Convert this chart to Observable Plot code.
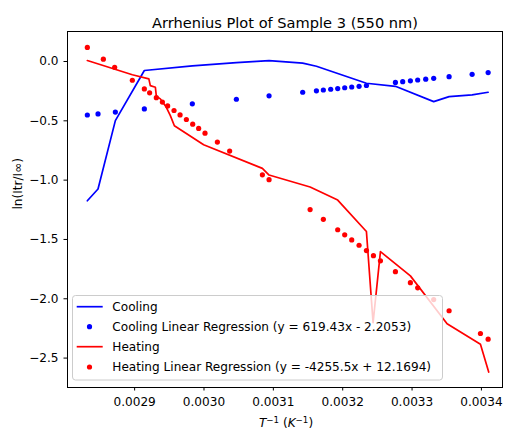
<!DOCTYPE html>
<html>
<head>
<meta charset="utf-8">
<script src="https://cdn.jsdelivr.net/npm/d3@7"></script>
<script src="https://cdn.jsdelivr.net/npm/@observablehq/plot@0.6"></script>
<style>
  body { margin: 0; background: #fff; }
  #chart { position: relative; width: 505px; height: 434px; }
  svg { font-family: "DejaVu Sans", sans-serif; }
</style>
</head>
<body>
<div id="chart"></div>
<script>
// ---- Data ----
const title = "Arrhenius Plot of Sample 3 (550 nm)";
const yLabel = "ln(Itr/I∞)";
const legendLabels = [
  "Cooling",
  "Cooling Linear Regression (y = 619.43x - 2.2053)",
  "Heating",
  "Heating Linear Regression (y = -4255.5x + 12.1694)"
];
const xTicks = [0.0029, 0.0030, 0.0031, 0.0032, 0.0033, 0.0034];
const yTicks = [0.0, -0.5, -1.0, -1.5, -2.0, -2.5];

// Cooling (measured line)
const coolLineX = [0.0028318, 0.0028472, 0.0028722, 0.0029140, 0.0029832, 0.0030467, 0.0030938, 0.0031423, 0.0031621, 0.0032342, 0.0032760, 0.0033312, 0.0033534, 0.0033866, 0.0034097];
const coolLineY = [-1.174, -1.075, -0.498, -0.076, -0.036, -0.010, 0.008, -0.014, -0.040, -0.183, -0.209, -0.338, -0.296, -0.281, -0.259];

// Cooling regression points
const coolPtsX = [0.0028318, 0.0028472, 0.0028722, 0.0029140, 0.0029832, 0.0030467, 0.0030938, 0.0031423, 0.0031621, 0.0031721, 0.0031827, 0.0031928, 0.0032029, 0.0032130, 0.0032236, 0.0032342, 0.0032760, 0.0032865, 0.0032976, 0.0033081, 0.0033197, 0.0033312, 0.0033534, 0.0033866, 0.0034097];
const coolPtsY = [-0.451, -0.442, -0.426, -0.400, -0.357, -0.318, -0.289, -0.259, -0.247, -0.240, -0.234, -0.228, -0.221, -0.215, -0.209, -0.202, -0.176, -0.170, -0.163, -0.156, -0.149, -0.142, -0.128, -0.108, -0.093];

// Heating (measured line)
const heatLineX = [0.0028318, 0.0028967, 0.0029205, 0.0029226, 0.0029299, 0.0029313, 0.0029371, 0.0029457, 0.0029515, 0.0029573, 0.0029995, 0.0030842, 0.0030938, 0.0031530, 0.0031928, 0.0032342, 0.0032438, 0.0032544, 0.0032976, 0.0033505, 0.0033986, 0.0034105];
const heatLineY = [0.008, -0.112, -0.146, -0.203, -0.217, -0.293, -0.315, -0.386, -0.456, -0.541, -0.701, -0.901, -0.957, -1.058, -1.168, -1.433, -2.202, -1.602, -1.807, -2.210, -2.384, -2.618];

// Heating regression points
const heatPtsX = [0.0028318, 0.0028549, 0.0028712, 0.0028967, 0.0029140, 0.0029216, 0.0029313, 0.0029400, 0.0029476, 0.0029568, 0.0029655, 0.0029746, 0.0029837, 0.0029923, 0.0030015, 0.0030193, 0.0030370, 0.0030842, 0.0030938, 0.0031530, 0.0031721, 0.0031928, 0.0032029, 0.0032130, 0.0032236, 0.0032342, 0.0032443, 0.0032544, 0.0032760, 0.0032976, 0.0033081, 0.0033312, 0.0033534, 0.0033986, 0.0034097];
const heatPtsY = [0.119, 0.020, -0.049, -0.158, -0.231, -0.264, -0.305, -0.342, -0.374, -0.413, -0.450, -0.489, -0.528, -0.564, -0.604, -0.679, -0.755, -0.955, -0.996, -1.248, -1.330, -1.418, -1.461, -1.504, -1.549, -1.594, -1.637, -1.680, -1.772, -1.864, -1.908, -2.007, -2.101, -2.293, -2.341];

const zip = (xs, ys) => xs.map((x, i) => ({x, y: ys[i]}));
const coolLine = zip(coolLineX, coolLineY);
const coolPts = zip(coolPtsX, coolPtsY);
const heatLine = zip(heatLineX, heatLineY);
const heatPts = zip(heatPtsX, heatPtsY);

const BLUE = "#0000ff", RED = "#ff0000";
const FS = 12.1;
const LW = 1.7;
const R = 2.6;
const fmtMinus = (s) => s.replace("-", "\u2212");

const plot = Plot.plot({
  width: 505,
  height: 434,
  marginLeft: 67,
  marginRight: 3,
  marginTop: 31,
  marginBottom: 47,
  style: {fontFamily: "DejaVu Sans, sans-serif", fontSize: FS + "px", color: "#000", background: "#fff"},
  x: {domain: [0.0028032, 0.0034304]},
  y: {domain: [-2.748, 0.253]},
  marks: [
    Plot.axisX({ticks: xTicks, tickFormat: d => d.toFixed(4), tickSize: 3.5, tickPadding: 6.5, label: null, fontSize: FS}),
    Plot.axisY({ticks: yTicks, tickFormat: d => fmtMinus(d.toFixed(1)), tickSize: 3.5, tickPadding: 5.5, label: null, fontSize: FS}),
    Plot.line(coolLine, {x: "x", y: "y", stroke: BLUE, strokeWidth: LW}),
    Plot.dot(coolPts, {x: "x", y: "y", fill: BLUE, r: R}),
    Plot.line(heatLine, {x: "x", y: "y", stroke: RED, strokeWidth: LW}),
    Plot.dot(heatPts, {x: "x", y: "y", fill: RED, r: R}),
    Plot.frame({stroke: "#000", strokeWidth: 1}),
    Plot.text([title], {frameAnchor: "top", dy: -14, fontSize: 14.6, fill: "#000", text: d => d}),
    Plot.text([yLabel], {frameAnchor: "left", dx: -49, rotate: -90, fontSize: FS, fill: "#000", text: d => d})
  ]
});
document.getElementById("chart").appendChild(plot);

// x-axis label with mathtext-like formatting
const svg = d3.select(plot);
const xl = svg.append("text")
  .attr("x", 286).attr("y", 427)
  .attr("text-anchor", "middle")
  .attr("font-size", FS).attr("fill", "#000");
xl.append("tspan").attr("font-style", "italic").text("T");
xl.append("tspan").attr("dy", -4.5).attr("font-size", 8.7).text("\u22121");
xl.append("tspan").attr("dy", 4.5).text(" (");
xl.append("tspan").attr("font-style", "italic").text("K");
xl.append("tspan").attr("dy", -4.5).attr("font-size", 8.7).text("\u22121");
xl.append("tspan").attr("dy", 4.5).text(")");

// legend (inside the axes, lower left)
const lg = svg.append("g").attr("text-anchor", "start");
lg.append("rect")
  .attr("x", 72.5).attr("y", 295.5).attr("width", 370).attr("height", 84.5)
  .attr("rx", 3).attr("fill", "#fff").attr("fill-opacity", 0.8)
  .attr("stroke", "#cccccc").attr("stroke-width", 1);
const rowY = [306.7, 326.7, 346.7, 367.0];
const kinds = ["line", "dot", "line", "dot"];
const cols = [BLUE, BLUE, RED, RED];
legendLabels.forEach((lab, i) => {
  if (kinds[i] === "line") {
    lg.append("line").attr("x1", 76.7).attr("x2", 102.7).attr("y1", rowY[i]).attr("y2", rowY[i])
      .attr("stroke", cols[i]).attr("stroke-width", LW);
  } else {
    lg.append("circle").attr("cx", 89.5).attr("cy", rowY[i]).attr("r", R).attr("fill", cols[i]);
  }
  lg.append("text").attr("x", 112.3).attr("y", rowY[i]).attr("dy", "0.35em")
    .attr("text-anchor", "start")
    .attr("font-size", FS).attr("fill", "#000").text(lab);
});
</script>
</body>
</html>
